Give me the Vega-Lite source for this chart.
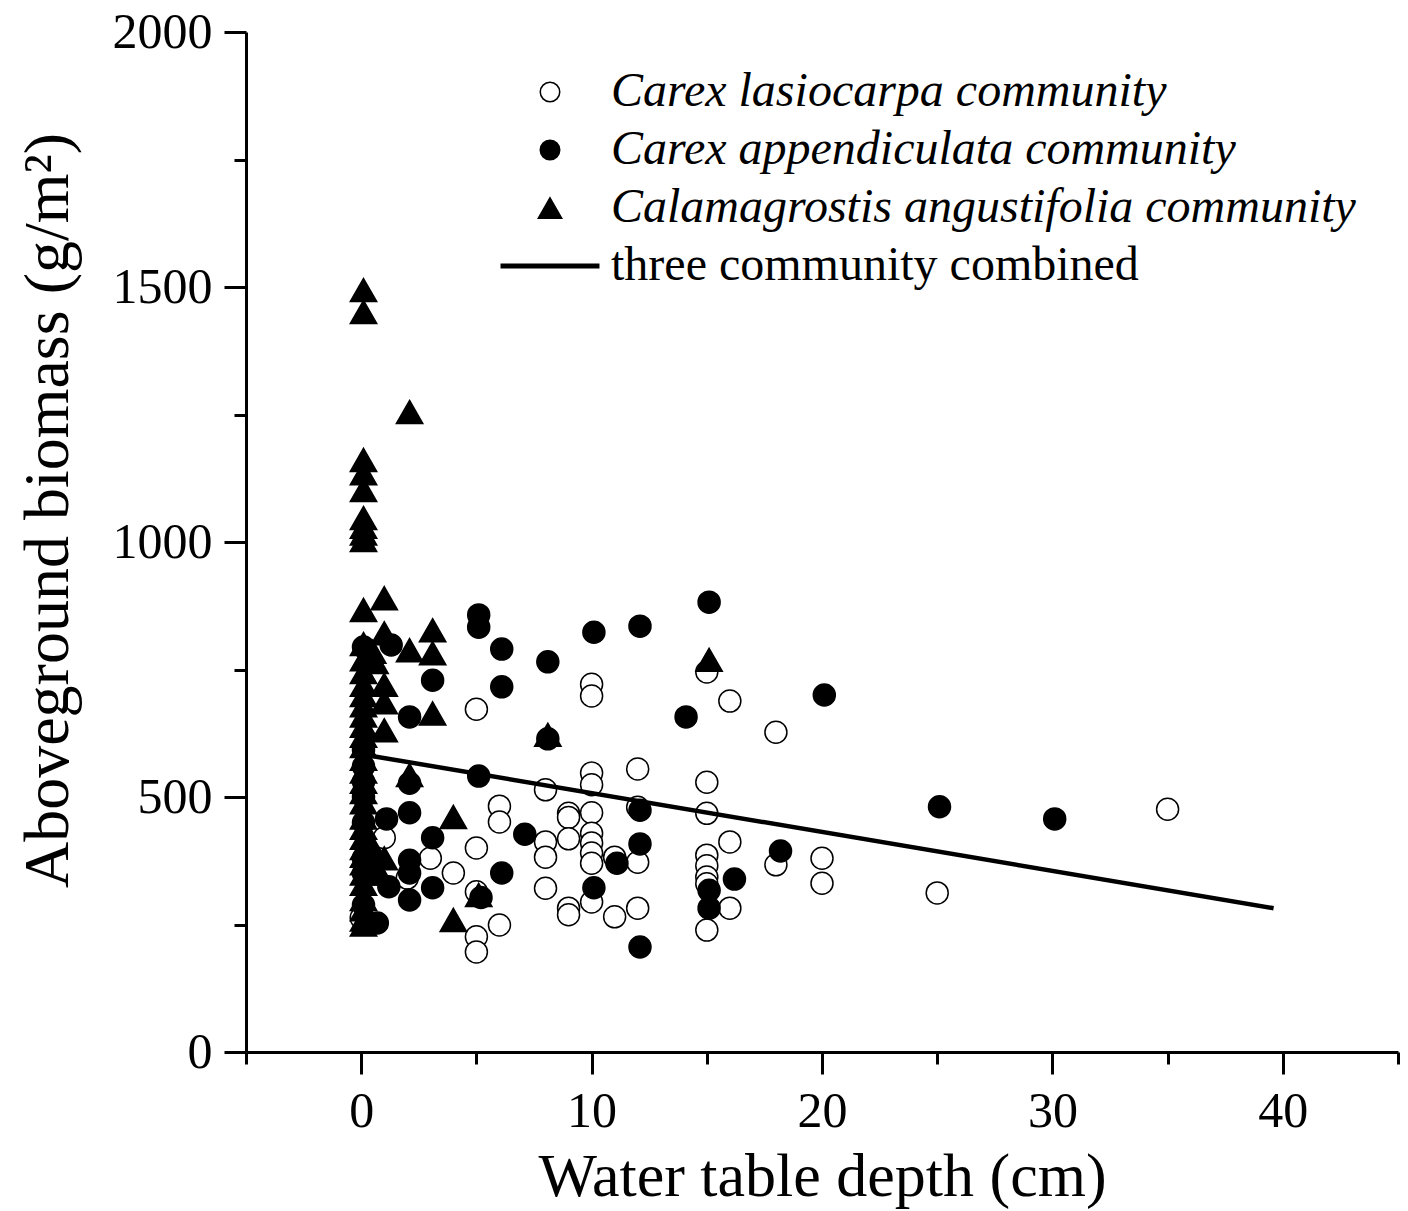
{
  "$schema": "https://vega.github.io/schema/vega-lite/v6.json",
  "width": 1152,
  "height": 1020,
  "autosize": "none",
  "padding": {"left": 246, "top": 32, "right": 10, "bottom": 159},
  "background": "white",
  "config": {
    "view": {"stroke": null},
    "font": "Liberation Serif",
    "axis": {
      "grid": false,
      "domainColor": "black",
      "tickColor": "black",
      "labelColor": "black",
      "titleColor": "black",
      "domainWidth": 3,
      "tickWidth": 3,
      "labelFont": "Liberation Serif",
      "titleFont": "Liberation Serif",
      "labelFontSize": 50,
      "titleFontSize": 62,
      "titleFontWeight": "normal"
    }
  },
  "datasets": {
    "points": [
      {"community": "Carex lasiocarpa community", "depth": 0, "biomass": 263},
      {"community": "Carex lasiocarpa community", "depth": 1, "biomass": 420},
      {"community": "Carex lasiocarpa community", "depth": 3, "biomass": 380},
      {"community": "Carex lasiocarpa community", "depth": 4, "biomass": 351},
      {"community": "Carex lasiocarpa community", "depth": 2, "biomass": 341},
      {"community": "Carex lasiocarpa community", "depth": 5, "biomass": 672},
      {"community": "Carex lasiocarpa community", "depth": 5, "biomass": 400},
      {"community": "Carex lasiocarpa community", "depth": 5, "biomass": 314},
      {"community": "Carex lasiocarpa community", "depth": 5, "biomass": 226},
      {"community": "Carex lasiocarpa community", "depth": 5, "biomass": 196},
      {"community": "Carex lasiocarpa community", "depth": 6, "biomass": 482},
      {"community": "Carex lasiocarpa community", "depth": 6, "biomass": 451},
      {"community": "Carex lasiocarpa community", "depth": 6, "biomass": 249},
      {"community": "Carex lasiocarpa community", "depth": 8, "biomass": 514},
      {"community": "Carex lasiocarpa community", "depth": 8, "biomass": 412},
      {"community": "Carex lasiocarpa community", "depth": 8, "biomass": 382},
      {"community": "Carex lasiocarpa community", "depth": 8, "biomass": 321},
      {"community": "Carex lasiocarpa community", "depth": 9, "biomass": 468},
      {"community": "Carex lasiocarpa community", "depth": 9, "biomass": 460},
      {"community": "Carex lasiocarpa community", "depth": 9, "biomass": 418},
      {"community": "Carex lasiocarpa community", "depth": 9, "biomass": 282},
      {"community": "Carex lasiocarpa community", "depth": 9, "biomass": 269},
      {"community": "Carex lasiocarpa community", "depth": 10, "biomass": 721},
      {"community": "Carex lasiocarpa community", "depth": 10, "biomass": 698},
      {"community": "Carex lasiocarpa community", "depth": 10, "biomass": 547},
      {"community": "Carex lasiocarpa community", "depth": 10, "biomass": 524},
      {"community": "Carex lasiocarpa community", "depth": 10, "biomass": 469},
      {"community": "Carex lasiocarpa community", "depth": 10, "biomass": 429},
      {"community": "Carex lasiocarpa community", "depth": 10, "biomass": 410},
      {"community": "Carex lasiocarpa community", "depth": 10, "biomass": 390},
      {"community": "Carex lasiocarpa community", "depth": 10, "biomass": 370},
      {"community": "Carex lasiocarpa community", "depth": 10, "biomass": 294},
      {"community": "Carex lasiocarpa community", "depth": 11, "biomass": 382},
      {"community": "Carex lasiocarpa community", "depth": 11, "biomass": 265},
      {"community": "Carex lasiocarpa community", "depth": 12, "biomass": 555},
      {"community": "Carex lasiocarpa community", "depth": 12, "biomass": 480},
      {"community": "Carex lasiocarpa community", "depth": 12, "biomass": 372},
      {"community": "Carex lasiocarpa community", "depth": 12, "biomass": 282},
      {"community": "Carex lasiocarpa community", "depth": 15, "biomass": 745},
      {"community": "Carex lasiocarpa community", "depth": 15, "biomass": 529},
      {"community": "Carex lasiocarpa community", "depth": 15, "biomass": 468},
      {"community": "Carex lasiocarpa community", "depth": 15, "biomass": 386},
      {"community": "Carex lasiocarpa community", "depth": 15, "biomass": 365},
      {"community": "Carex lasiocarpa community", "depth": 15, "biomass": 343},
      {"community": "Carex lasiocarpa community", "depth": 15, "biomass": 330},
      {"community": "Carex lasiocarpa community", "depth": 15, "biomass": 239},
      {"community": "Carex lasiocarpa community", "depth": 16, "biomass": 688},
      {"community": "Carex lasiocarpa community", "depth": 16, "biomass": 412},
      {"community": "Carex lasiocarpa community", "depth": 16, "biomass": 282},
      {"community": "Carex lasiocarpa community", "depth": 18, "biomass": 627},
      {"community": "Carex lasiocarpa community", "depth": 18, "biomass": 367},
      {"community": "Carex lasiocarpa community", "depth": 20, "biomass": 380},
      {"community": "Carex lasiocarpa community", "depth": 20, "biomass": 331},
      {"community": "Carex lasiocarpa community", "depth": 25, "biomass": 312},
      {"community": "Carex lasiocarpa community", "depth": 35, "biomass": 476},
      {"community": "Carex appendiculata community", "depth": 0.1, "biomass": 794},
      {"community": "Carex appendiculata community", "depth": 1.3, "biomass": 798},
      {"community": "Carex appendiculata community", "depth": 3.1, "biomass": 729},
      {"community": "Carex appendiculata community", "depth": 2.1, "biomass": 657},
      {"community": "Carex appendiculata community", "depth": 0.1, "biomass": 592},
      {"community": "Carex appendiculata community", "depth": 0.1, "biomass": 560},
      {"community": "Carex appendiculata community", "depth": 0.1, "biomass": 530},
      {"community": "Carex appendiculata community", "depth": 0.1, "biomass": 500},
      {"community": "Carex appendiculata community", "depth": 0.1, "biomass": 450},
      {"community": "Carex appendiculata community", "depth": 0.1, "biomass": 380},
      {"community": "Carex appendiculata community", "depth": 0.1, "biomass": 350},
      {"community": "Carex appendiculata community", "depth": 0.1, "biomass": 288},
      {"community": "Carex appendiculata community", "depth": 0.7, "biomass": 253},
      {"community": "Carex appendiculata community", "depth": 1.2, "biomass": 324},
      {"community": "Carex appendiculata community", "depth": 1.1, "biomass": 457},
      {"community": "Carex appendiculata community", "depth": 2.1, "biomass": 527},
      {"community": "Carex appendiculata community", "depth": 2.1, "biomass": 469},
      {"community": "Carex appendiculata community", "depth": 3.1, "biomass": 420},
      {"community": "Carex appendiculata community", "depth": 2.1, "biomass": 376},
      {"community": "Carex appendiculata community", "depth": 2.1, "biomass": 351},
      {"community": "Carex appendiculata community", "depth": 3.1, "biomass": 322},
      {"community": "Carex appendiculata community", "depth": 2.1, "biomass": 298},
      {"community": "Carex appendiculata community", "depth": 5.1, "biomass": 857},
      {"community": "Carex appendiculata community", "depth": 5.1, "biomass": 833},
      {"community": "Carex appendiculata community", "depth": 6.1, "biomass": 790},
      {"community": "Carex appendiculata community", "depth": 8.1, "biomass": 765},
      {"community": "Carex appendiculata community", "depth": 6.1, "biomass": 716},
      {"community": "Carex appendiculata community", "depth": 5.1, "biomass": 541},
      {"community": "Carex appendiculata community", "depth": 7.1, "biomass": 427},
      {"community": "Carex appendiculata community", "depth": 6.1, "biomass": 351},
      {"community": "Carex appendiculata community", "depth": 5.2, "biomass": 303},
      {"community": "Carex appendiculata community", "depth": 8.1, "biomass": 614},
      {"community": "Carex appendiculata community", "depth": 10.1, "biomass": 823},
      {"community": "Carex appendiculata community", "depth": 10.1, "biomass": 322},
      {"community": "Carex appendiculata community", "depth": 12.1, "biomass": 835},
      {"community": "Carex appendiculata community", "depth": 12.1, "biomass": 474},
      {"community": "Carex appendiculata community", "depth": 12.1, "biomass": 408},
      {"community": "Carex appendiculata community", "depth": 11.1, "biomass": 370},
      {"community": "Carex appendiculata community", "depth": 12.1, "biomass": 206},
      {"community": "Carex appendiculata community", "depth": 14.1, "biomass": 657},
      {"community": "Carex appendiculata community", "depth": 15.1, "biomass": 882},
      {"community": "Carex appendiculata community", "depth": 15.1, "biomass": 317},
      {"community": "Carex appendiculata community", "depth": 15.1, "biomass": 282},
      {"community": "Carex appendiculata community", "depth": 16.2, "biomass": 339},
      {"community": "Carex appendiculata community", "depth": 18.2, "biomass": 394},
      {"community": "Carex appendiculata community", "depth": 20.1, "biomass": 700},
      {"community": "Carex appendiculata community", "depth": 25.1, "biomass": 481},
      {"community": "Carex appendiculata community", "depth": 30.1, "biomass": 457},
      {"community": "Calamagrostis angustifolia community", "depth": 0.1, "biomass": 1494},
      {"community": "Calamagrostis angustifolia community", "depth": 0.1, "biomass": 1451},
      {"community": "Calamagrostis angustifolia community", "depth": 2.1, "biomass": 1255},
      {"community": "Calamagrostis angustifolia community", "depth": 0.1, "biomass": 1161},
      {"community": "Calamagrostis angustifolia community", "depth": 0.1, "biomass": 1135},
      {"community": "Calamagrostis angustifolia community", "depth": 0.1, "biomass": 1102},
      {"community": "Calamagrostis angustifolia community", "depth": 0.1, "biomass": 1047},
      {"community": "Calamagrostis angustifolia community", "depth": 0.1, "biomass": 1030},
      {"community": "Calamagrostis angustifolia community", "depth": 0.1, "biomass": 1017},
      {"community": "Calamagrostis angustifolia community", "depth": 0.1, "biomass": 1004},
      {"community": "Calamagrostis angustifolia community", "depth": 0.1, "biomass": 867},
      {"community": "Calamagrostis angustifolia community", "depth": 1.0, "biomass": 890},
      {"community": "Calamagrostis angustifolia community", "depth": 1.0, "biomass": 821},
      {"community": "Calamagrostis angustifolia community", "depth": 0.1, "biomass": 800},
      {"community": "Calamagrostis angustifolia community", "depth": 0.5, "biomass": 785},
      {"community": "Calamagrostis angustifolia community", "depth": 0.1, "biomass": 770},
      {"community": "Calamagrostis angustifolia community", "depth": 0.1, "biomass": 745},
      {"community": "Calamagrostis angustifolia community", "depth": 0.6, "biomass": 765},
      {"community": "Calamagrostis angustifolia community", "depth": 2.1, "biomass": 788},
      {"community": "Calamagrostis angustifolia community", "depth": 3.1, "biomass": 827},
      {"community": "Calamagrostis angustifolia community", "depth": 3.1, "biomass": 782},
      {"community": "Calamagrostis angustifolia community", "depth": 1.0, "biomass": 720},
      {"community": "Calamagrostis angustifolia community", "depth": 1.0, "biomass": 686},
      {"community": "Calamagrostis angustifolia community", "depth": 3.1, "biomass": 664},
      {"community": "Calamagrostis angustifolia community", "depth": 1.0, "biomass": 631},
      {"community": "Calamagrostis angustifolia community", "depth": 0.1, "biomass": 720},
      {"community": "Calamagrostis angustifolia community", "depth": 0.1, "biomass": 700},
      {"community": "Calamagrostis angustifolia community", "depth": 0.1, "biomass": 680},
      {"community": "Calamagrostis angustifolia community", "depth": 0.1, "biomass": 660},
      {"community": "Calamagrostis angustifolia community", "depth": 0.1, "biomass": 640},
      {"community": "Calamagrostis angustifolia community", "depth": 0.1, "biomass": 620},
      {"community": "Calamagrostis angustifolia community", "depth": 0.1, "biomass": 600},
      {"community": "Calamagrostis angustifolia community", "depth": 0.1, "biomass": 575},
      {"community": "Calamagrostis angustifolia community", "depth": 0.1, "biomass": 550},
      {"community": "Calamagrostis angustifolia community", "depth": 0.1, "biomass": 530},
      {"community": "Calamagrostis angustifolia community", "depth": 0.1, "biomass": 510},
      {"community": "Calamagrostis angustifolia community", "depth": 0.1, "biomass": 490},
      {"community": "Calamagrostis angustifolia community", "depth": 0.1, "biomass": 460},
      {"community": "Calamagrostis angustifolia community", "depth": 0.1, "biomass": 440},
      {"community": "Calamagrostis angustifolia community", "depth": 0.1, "biomass": 420},
      {"community": "Calamagrostis angustifolia community", "depth": 0.1, "biomass": 400},
      {"community": "Calamagrostis angustifolia community", "depth": 0.1, "biomass": 385},
      {"community": "Calamagrostis angustifolia community", "depth": 0.1, "biomass": 370},
      {"community": "Calamagrostis angustifolia community", "depth": 0.1, "biomass": 350},
      {"community": "Calamagrostis angustifolia community", "depth": 0.1, "biomass": 330},
      {"community": "Calamagrostis angustifolia community", "depth": 0.1, "biomass": 300},
      {"community": "Calamagrostis angustifolia community", "depth": 0.1, "biomass": 280},
      {"community": "Calamagrostis angustifolia community", "depth": 0.1, "biomass": 260},
      {"community": "Calamagrostis angustifolia community", "depth": 0.1, "biomass": 250},
      {"community": "Calamagrostis angustifolia community", "depth": 0.5, "biomass": 400},
      {"community": "Calamagrostis angustifolia community", "depth": 0.5, "biomass": 370},
      {"community": "Calamagrostis angustifolia community", "depth": 1.0, "biomass": 380},
      {"community": "Calamagrostis angustifolia community", "depth": 0.8, "biomass": 350},
      {"community": "Calamagrostis angustifolia community", "depth": 2.1, "biomass": 543},
      {"community": "Calamagrostis angustifolia community", "depth": 4.0, "biomass": 461},
      {"community": "Calamagrostis angustifolia community", "depth": 4.0, "biomass": 259},
      {"community": "Calamagrostis angustifolia community", "depth": 5.1, "biomass": 308},
      {"community": "Calamagrostis angustifolia community", "depth": 8.1, "biomass": 622},
      {"community": "Calamagrostis angustifolia community", "depth": 15.1, "biomass": 769}
    ],
    "fit": [
      {"depth": 0, "biomass": 584},
      {"depth": 39.6, "biomass": 282}
    ]
  },
  "layer": [
    {
      "data": {"name": "points"},
      "mark": {"type": "point", "filled": true, "strokeWidth": 1.5, "opacity": 1, "size": 484},
      "encoding": {
        "x": {
          "field": "depth", "type": "quantitative",
          "scale": {"domain": [-5, 45], "nice": false, "zero": false},
          "axis": {"orient": "bottom", "values": [0, 10, 20, 30, 40], "tickSize": 22, "labelPadding": 12, "title": "Water table depth (cm)", "titlePadding": 10}
        },
        "y": {
          "field": "biomass", "type": "quantitative",
          "scale": {"domain": [0, 2000], "nice": false, "zero": true},
          "axis": {"orient": "left", "values": [0, 500, 1000, 1500, 2000], "format": "d", "tickSize": 22, "labelPadding": 12, "title": "Aboveground biomass (g/m²)", "titleFontSize": 64, "titlePadding": 32, "titleY": 478}
        },
        "shape": {
          "field": "community", "type": "nominal",
          "scale": {
            "domain": ["Carex lasiocarpa community", "Carex appendiculata community", "Calamagrostis angustifolia community", "three community combined"],
            "range": ["circle", "circle", "M0,-1.05L1.2,1.05L-1.2,1.05Z", "M-5,-0.17L5,-0.17L5,0.17L-5,0.17Z"]
          },
          "legend": {
            "title": null, "orient": "none", "legendX": 280, "legendY": 36, "padding": 0,
            "symbolSize": 380, "symbolStrokeWidth": 1.5, "symbolOpacity": 1,
            "labelFont": "Liberation Serif", "labelFontSize": 48, "labelColor": "black", "labelOffset": 37, "rowPadding": 10, "labelLimit": 1000,
            "labelFontStyle": {"expr": "datum.label == 'three community combined' ? 'normal' : 'italic'"}
          }
        },
        "fill": {
          "field": "community", "type": "nominal",
          "scale": {
            "domain": ["Carex lasiocarpa community", "Carex appendiculata community", "Calamagrostis angustifolia community", "three community combined"],
            "range": ["white", "black", "black", "black"]
          },
          "legend": {
            "title": null, "orient": "none", "legendX": 280, "legendY": 36, "padding": 0,
            "symbolSize": 380, "symbolStrokeWidth": 1.5, "symbolOpacity": 1,
            "labelFont": "Liberation Serif", "labelFontSize": 48, "labelColor": "black", "labelOffset": 37, "rowPadding": 10, "labelLimit": 1000,
            "labelFontStyle": {"expr": "datum.label == 'three community combined' ? 'normal' : 'italic'"}
          }
        },
        "stroke": {
          "field": "community", "type": "nominal",
          "scale": {
            "domain": ["Carex lasiocarpa community", "Carex appendiculata community", "Calamagrostis angustifolia community", "three community combined"],
            "range": ["black", "black", "black", "black"]
          },
          "legend": {
            "title": null, "orient": "none", "legendX": 280, "legendY": 36, "padding": 0,
            "symbolSize": 380, "symbolStrokeWidth": 1.5, "symbolOpacity": 1,
            "labelFont": "Liberation Serif", "labelFontSize": 48, "labelColor": "black", "labelOffset": 37, "rowPadding": 10, "labelLimit": 1000,
            "labelFontStyle": {"expr": "datum.label == 'three community combined' ? 'normal' : 'italic'"}
          }
        }
      }
    },
    {
      "data": {"name": "fit"},
      "mark": {"type": "line", "color": "black", "strokeWidth": 4.5},
      "encoding": {
        "x": {
          "field": "depth", "type": "quantitative",
          "axis": {"orient": "bottom", "values": [-5, 5, 15, 25, 35, 45], "tickSize": 12, "labels": false, "domain": false, "title": null}
        },
        "y": {
          "field": "biomass", "type": "quantitative",
          "axis": {"orient": "left", "values": [250, 750, 1250, 1750], "tickSize": 12, "labels": false, "domain": false, "title": null}
        }
      }
    }
  ],
  "resolve": {"axis": {"x": "independent", "y": "independent"}}
}
